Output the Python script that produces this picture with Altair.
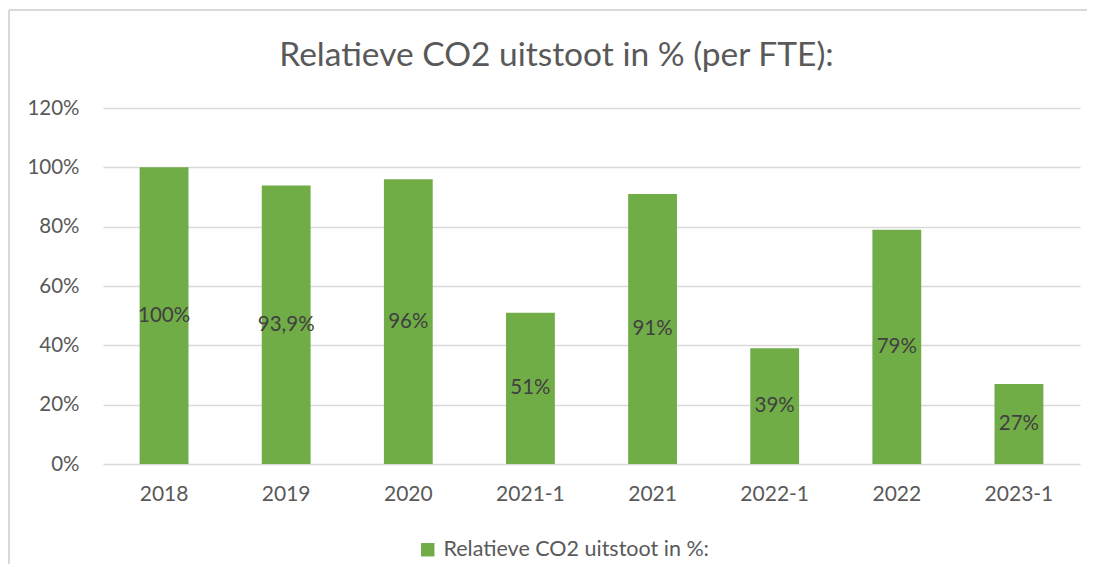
import altair as alt
import pandas as pd

categories = ["2018", "2019", "2020", "2021-1", "2021", "2022-1", "2022", "2023-1"]
values = [1.00, 0.939, 0.96, 0.51, 0.91, 0.39, 0.79, 0.27]
labels = ["100%", "93,9%", "96%", "51%", "91%", "39%", "79%", "27%"]
series = "Relatieve CO2 uitstoot in %:"

df = pd.DataFrame({"cat": categories, "val": values, "lab": labels, "series": series})

FONT = "Lato"
GREEN = "#70ad47"

base = alt.Chart(df)

bars = base.mark_bar(color=GREEN).encode(
    x=alt.X("cat:N", sort=categories,
            scale=alt.Scale(paddingInner=0.6, paddingOuter=0.3),
            axis=alt.Axis(title=None, labelAngle=0, labelFontSize=21, labelColor="#595959",
                          labelFont=FONT, ticks=False, domain=False, labelPadding=19)),
    y=alt.Y("val:Q", scale=alt.Scale(domain=[0, 1.2]),
            axis=alt.Axis(title=None, format=".0%", values=[0, 0.2, 0.4, 0.6, 0.8, 1.0, 1.2],
                          labelFontSize=20.5, labelColor="#595959", labelFont=FONT,
                          ticks=False, domain=False, labelPadding=24,
                          gridColor="#d9d9d9", gridWidth=1.5)),
    fill=alt.Fill("series:N", scale=alt.Scale(range=[GREEN]),
                  legend=alt.Legend(title=None, orient="none", legendX=314, legendY=431,
                                    symbolType="square", symbolSize=180, symbolStrokeWidth=0,
                                    labelFontSize=21.5, labelColor="#595959", labelFont=FONT,
                                    labelLimit=500, labelOffset=5)),
)

text = base.mark_text(fontSize=20.5, color="#404040", font=FONT).encode(
    x=alt.X("cat:N", sort=categories),
    y=alt.Y("mid:Q"),
    text="lab:N",
).transform_calculate(mid="datum.val / 2")

border_left = base.mark_rule(color="#d9d9d9", strokeWidth=1.5).encode(
    x=alt.value(-94), y=alt.value(-98), y2=alt.value(470)
)
border_top = base.mark_rule(color="#d9d9d9", strokeWidth=1.5).encode(
    x=alt.value(-94), x2=alt.value(1000), y=alt.value(-98)
)

chart = alt.layer(bars, text, border_left, border_top).properties(
    width=977, height=356,
    autosize=alt.AutoSizeParams(type="none"),
    padding={"left": 95, "top": 100, "right": 7, "bottom": 100},
    title=alt.TitleParams("Relatieve CO2 uitstoot in % (per FTE):", fontSize=33.5, font=FONT,
                          fontWeight="normal", color="#595959", anchor="middle", dx=-35, offset=-64),
).configure_view(stroke=None)

chart.save("out.html", embed_options={"renderer": "svg", "actions": False})
